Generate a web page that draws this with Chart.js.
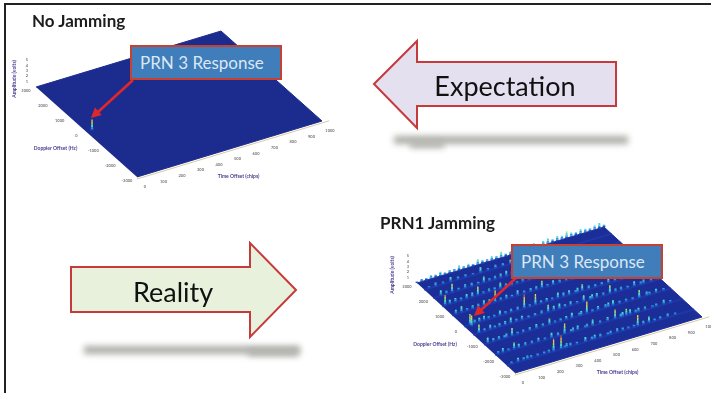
<!DOCTYPE html>
<html>
<head>
<meta charset="utf-8">
<title>PRN 3 Response</title>
<script src="https://cdn.jsdelivr.net/npm/chart.js@4/dist/chart.umd.min.js"></script>
<style>
  html, body { margin: 0; padding: 0; background: #fff; overflow: hidden; }
  #stage { position: relative; width: 711px; height: 393px; overflow: hidden; filter: blur(0.5px); font-family: Lato, "Open Sans", sans-serif; }
  #frameTop { position: absolute; left: 4px; top: 3px; right: 0; height: 2px; background: #222; }
  #frameLeft { position: absolute; left: 4px; top: 3px; bottom: 0; width: 2px; background: #222; }
  canvas { position: absolute; }
  svg { position: absolute; left: 0; top: 0; }
  .title { position: absolute; font-size: 17px; font-weight: 700; color: #1c1c1c; white-space: nowrap; }
  .big { position: absolute; font-size: 27px; color: #111; white-space: nowrap; transform: translate(-50%, -50%); }
  .callout { position: absolute; width: 148px; height: 31px; line-height: 31px; background: #3f7dbb; border: 2px solid #c8402f; color: #dbe7f3; font-size: 17px; text-indent: 8px; white-space: nowrap; }
</style>
</head>
<body>
<div id="stage">
  <canvas id="noJamChart" width="345" height="196" style="left:0;top:0"></canvas>
  <canvas id="jamChart" width="331" height="197" style="left:380px;top:196px"></canvas>

  <svg width="711" height="393">
    <defs>
      <filter id="soft" x="-10%" y="-100%" width="120%" height="300%"><feGaussianBlur stdDeviation="3"></feGaussianBlur></filter>
      <g id="redArrow">
        <line x1="133" y1="80" x2="98" y2="112" stroke="#e0282c" stroke-width="2.6"></line>
        <polygon points="91,118 101.7,115 95,107.6" fill="#e0282c"></polygon>
      </g>
    </defs>
    <rect x="394" y="136" width="234" height="8" fill="#ababa6" filter="url(#soft)"></rect>
    <rect x="410" y="141" width="34" height="7" fill="#b4b4ae" filter="url(#soft)"></rect>
    <rect x="84" y="346" width="216" height="8" fill="#ababa6" filter="url(#soft)"></rect>
    <rect x="248" y="349" width="50" height="7" fill="#b4b4ae" filter="url(#soft)"></rect>
    <polygon points="374,84 417,41 417,62 616,62 616,106 417,106 417,128" fill="#e4e0f0" stroke="#c63a3c" stroke-width="2"></polygon>
    <polygon points="71,267 250,267 250,243 296,290 250,337 250,312 71,312" fill="#e8f1dc" stroke="#c63a3c" stroke-width="2"></polygon>
    <use href="#redArrow"></use>
    <use href="#redArrow" x="383" y="198"></use>
  </svg>

  <div id="frameTop"></div>
  <div id="frameLeft"></div>

  <div class="title" style="left:32px;top:10px">No Jamming</div>
  <div class="title" style="left:380px;top:212px">PRN1 Jamming</div>
  <div class="big" style="left:505px;top:85px">Expectation</div>
  <div class="big" style="left:173px;top:291px">Reality</div>
  <div class="callout" style="left:130px;top:45px">PRN 3 Response</div>
  <div class="callout" style="left:511px;top:244px">PRN 3 Response</div>
</div>

<script>
// Acquisition surfaces: amplitude against time offset and Doppler offset

// --- Data ---

var timeTicks = [0, 100, 200, 300, 400, 500, 600, 700, 800, 900, 1000];
var dopplerTicks = [3000, 2000, 1000, 0, -1000, -2000, -3000];
var ampTicks = [1, 2, 3, 4, 5];

// no jamming: the single PRN 3 peak
var noJamTime = [30];
var noJamDoppler = [0];
var noJamAmp = [2.0];

// PRN1 jamming: peaks sit on rows of constant Doppler, one list per row
var jamRowDoppler = [-2500, -1800, -1100, -450, 100, 850, 1450, 2000, 2550];
var jamTime = [
  [60, 130, 200, 250, 290, 340, 420, 500, 590, 650, 700, 760, 860],
  [40, 100, 160, 230, 300, 370, 440, 520, 600, 640, 700, 720, 800, 900],
  [20, 80, 150, 210, 280, 350, 410, 470, 550, 610, 690, 760, 830, 920],
  [30, 90, 140, 200, 260, 330, 400, 460, 520, 590, 660, 730, 790, 860, 950],
  [30, 80, 130, 190, 250, 320, 380, 440, 500, 560, 630, 700, 770, 840, 900],
  [50, 110, 170, 230, 290, 350, 420, 480, 540, 610, 670, 730, 800, 870],
  [15, 70, 130, 190, 250, 310, 370, 430, 500, 570, 640, 700, 780],
  [40, 100, 170, 270, 330, 390, 450, 520, 580, 650, 720],
  [60, 140, 220, 300, 380, 460, 540, 620, 700]
];
var jamAmp = [
  [0.8, 0.6, 0.5, 2.4, 2.6, 0.7, 0.9, 0.7, 0.8, 0.5, 2.1, 1.2, 0.7],
  [0.9, 1.3, 0.7, 0.8, 1.0, 2.0, 0.9, 1.2, 0.8, 1.8, 1.3, 1.0, 0.7, 0.9],
  [1.1, 0.7, 1.5, 0.6, 0.9, 1.2, 0.6, 1.0, 2.3, 0.8, 1.1, 0.6, 1.5, 0.8],
  [1.6, 0.9, 0.7, 1.1, 0.8, 0.6, 1.4, 1.0, 0.8, 1.2, 0.9, 1.6, 0.7, 1.0, 1.7],
  [2.0, 0.8, 0.6, 1.0, 0.7, 2.6, 2.1, 0.7, 1.1, 0.9, 1.3, 0.6, 1.2, 0.9, 1.5],
  [1.2, 0.7, 1.0, 2.2, 0.8, 1.0, 0.7, 1.4, 0.9, 0.8, 1.5, 0.7, 1.0, 1.3],
  [1.9, 0.8, 0.9, 1.7, 0.7, 1.2, 0.7, 1.0, 0.8, 1.1, 0.7, 1.3, 0.9],
  [1.0, 1.6, 0.8, 1.2, 0.7, 1.0, 0.8, 0.9, 1.1, 0.8, 0.7],
  [0.7, 0.9, 0.6, 1.1, 0.7, 0.8, 0.6, 0.9, 0.7]
];

// the low blue and cyan mounds between the tall peaks, same rows
var jamLowTime = [
  [25, 90, 110, 165, 225, 310, 320, 375, 455, 470, 540, 555, 620, 680, 730, 790, 820, 900],
  [15, 70, 125, 195, 265, 335, 405, 415, 480, 490, 560, 670, 680, 750, 765, 840, 860, 935],
  [50, 110, 120, 180, 245, 315, 380, 440, 510, 520, 580, 650, 665, 725, 795, 870, 885, 960],
  [60, 115, 170, 230, 295, 365, 430, 490, 555, 625, 635, 695, 760, 825, 895, 910, 985],
  [55, 105, 160, 220, 285, 350, 410, 470, 530, 595, 605, 665, 735, 805, 870, 935, 950],
  [20, 80, 140, 200, 260, 320, 385, 450, 510, 575, 640, 700, 765, 835, 905, 915],
  [40, 100, 160, 220, 280, 340, 400, 465, 535, 605, 670, 740, 815, 850, 890],
  [70, 135, 205, 240, 300, 360, 420, 485, 550, 615, 685, 760, 800, 840],
  [25, 100, 180, 260, 340, 420, 500, 580, 660, 740, 780]
];
var jamLowAmp = [
  [0.5, 0.6, 0.7, 0.5, 0.6, 0.5, 0.8, 0.5, 0.6, 0.8, 0.5, 0.7, 0.6, 0.5, 0.7, 0.5, 0.6, 0.5],
  [0.6, 0.5, 0.8, 0.6, 0.5, 0.7, 0.6, 0.8, 0.5, 0.7, 0.6, 0.7, 0.9, 0.6, 0.8, 0.5, 0.6, 0.5],
  [0.7, 0.6, 0.8, 0.5, 0.7, 0.6, 0.5, 0.7, 0.6, 0.8, 0.5, 0.7, 0.9, 0.6, 0.5, 0.8, 0.6, 0.5],
  [0.6, 0.5, 0.8, 0.6, 0.5, 0.7, 0.9, 0.6, 0.5, 0.7, 0.9, 0.6, 0.7, 0.5, 0.6, 0.8, 0.5],
  [0.7, 0.9, 0.5, 0.6, 0.7, 0.5, 0.6, 0.5, 0.8, 0.6, 0.9, 0.7, 0.6, 0.5, 0.7, 0.6, 0.8],
  [0.8, 0.5, 0.7, 0.9, 0.6, 0.5, 0.6, 0.7, 0.5, 0.6, 0.8, 0.5, 0.7, 0.6, 0.8, 0.6],
  [0.8, 0.6, 0.9, 0.5, 0.6, 0.7, 0.5, 0.6, 0.7, 0.5, 0.6, 0.7, 0.5, 0.6, 0.5],
  [0.6, 0.5, 0.7, 0.5, 0.6, 0.8, 0.5, 0.6, 0.7, 0.5, 0.6, 0.7, 0.5, 0.6],
  [0.4, 0.5, 0.6, 0.4, 0.5, 0.6, 0.5, 0.4, 0.5, 0.6, 0.4]
];

// jagged noise along the far edge of the jammed surface
var edgeDoppler = 3000;
var edgeTime = [0, 25, 50, 75, 100, 125, 150, 175, 200, 225, 250, 275, 300, 325, 350, 375, 400, 425, 450, 475, 500, 525, 550, 575, 600, 625, 650, 675, 700, 725, 750, 775, 800, 825, 850, 875, 900, 925, 950, 975, 1000];
var edgeAmp = [0.3, 0.5, 0.4, 0.7, 0.5, 0.8, 0.4, 0.6, 0.5, 0.9, 0.5, 0.7, 0.4, 1.0, 0.6, 0.5, 0.8, 0.6, 1.1, 0.5, 0.7, 0.9, 0.6, 0.8, 0.7, 0.9, 0.5, 0.8, 1.0, 0.6, 0.9, 0.7, 1.3, 0.8, 0.6, 0.9, 0.7, 0.5, 0.8, 1.0, 0.4];

// --- Surface drawing ---

// jet style colouring, one band per amplitude step
var bandEdges = [0, 0.25, 0.55, 1.05, 1.6, 2.2, 3];
var bandColors = ["#1f50c4", "#2a9ae0", "#4fd6d0", "#b8e060", "#f0d840", "#e0602c"];
var bandWidths = [2.8, 2.4, 1.9, 1.5, 1.3, 1.2];

var noJamPlot = { ox: 137, oy: 177, tx: 185, ty: -56, dx: -101, dy: -90, ampPx: 5.4 };
var jamPlot = { ox: 135, oy: 177, tx: 187, ty: -56, dx: -98, dy: -90, ampPx: 5.4 };

function project(plot, t, d, a) {
  var s = t / 1000;
  var r = (d + 3000) / 6000;
  return {
    x: plot.ox + s * plot.tx + r * plot.dx,
    y: plot.oy + s * plot.ty + r * plot.dy - a * plot.ampPx
  };
}

function line(color, width, order, data) {
  return {
    data: data,
    showLine: true,
    borderColor: color,
    borderWidth: width,
    pointRadius: 0,
    fill: false,
    order: order,
    clip: false
  };
}

function buildDatasets(plot, spikes, planeColor, ridges) {
  var sets = [];

  var plane = line(planeColor, 1, 100, [
    project(plot, 0, -3000, 0),
    project(plot, 1000, -3000, 0),
    project(plot, 1000, 3000, 0),
    project(plot, 0, 3000, 0)
  ]);
  plane.fill = "shape";
  plane.backgroundColor = planeColor;
  sets.push(plane);

  sets.push(line("#d9c9a6", 1, 90, [project(plot, -10, -3100, 0), project(plot, 1030, -3100, 0)]));

  ridges.forEach(function(d) {
    sets.push(line("#1f37a6", 2, 80, [project(plot, 0, d, 0), project(plot, 1000, d, 0)]));
  });

  // each band holds the part of every spike that falls in its amplitude range
  bandColors.forEach(function(color, b) {
    var pts = [];
    spikes.forEach(function(p) {
      if (p.a <= bandEdges[b]) return;
      pts.push(project(plot, p.t, p.d, bandEdges[b]));
      pts.push(project(plot, p.t, p.d, Math.min(p.a, bandEdges[b + 1])));
      pts.push({ x: NaN, y: NaN });
    });
    sets.push(line(color, bandWidths[b], 60 - b, pts));
  });

  return sets;
}

// tick labels and axis titles follow the skewed axes
function axisTextPlugin(plot, titles) {
  return {
    id: "axisText",
    afterDraw: function(chart) {
      var ctx = chart.ctx;
      var xs = chart.scales.x, ys = chart.scales.y;
      function put(text, p, ox, oy) {
        ctx.fillText(text, xs.getPixelForValue(p.x + ox), ys.getPixelForValue(p.y + oy));
      }
      ctx.save();
      ctx.textAlign = "center";
      ctx.textBaseline = "middle";
      ctx.fillStyle = "#777";
      ctx.font = "bold 4px Lato";
      timeTicks.forEach(function(t) { put(String(t), project(plot, t, -3000, 0), 8, 10); });
      dopplerTicks.forEach(function(d) { put(String(d), project(plot, 0, d, 0), -10, 4); });
      ampTicks.forEach(function(a) { put(String(a), project(plot, 0, 3000, a), -9, 0); });
      ctx.fillStyle = "#4a3a8c";
      ctx.font = "bold 5px Lato";
      put(titles.doppler, project(plot, 0, 0, 0), -31, 16);
      put(titles.time, project(plot, 500, -3000, 0), 9, 27);
      ctx.translate(xs.getPixelForValue(plot.ox - 123), ys.getPixelForValue(plot.oy - 98));
      ctx.rotate(-Math.PI / 2);
      ctx.fillText(titles.amp, 0, 0);
      ctx.restore();
    }
  };
}

function createSurface(id, plot, spikes, planeColor, ridges) {
  var canvas = document.getElementById(id);
  return new Chart(canvas, {
    type: "scatter",
    data: { datasets: buildDatasets(plot, spikes, planeColor, ridges) },
    options: {
      responsive: false,
      animation: false,
      layout: { padding: 0 },
      plugins: { legend: { display: false }, tooltip: { enabled: false } },
      scales: {
        x: { type: "linear", display: false, min: 0, max: canvas.width },
        y: { type: "linear", display: false, min: 0, max: canvas.height, reverse: true }
      }
    },
    plugins: [axisTextPlugin(plot, { doppler: "Doppler Offset (Hz)", time: "Time Offset (chips)", amp: "Amplitude (volts)" })]
  });
}

// --- Initialization ---

var noJamSpikes = noJamTime.map(function(t, i) {
  return { t: t, d: noJamDoppler[i], a: noJamAmp[i] };
});

var jamSpikes = [];
edgeTime.forEach(function(t, i) {
  jamSpikes.push({ t: t, d: edgeDoppler, a: edgeAmp[i] });
});
jamRowDoppler.forEach(function(d, r) {
  jamLowTime[r].forEach(function(t, i) {
    jamSpikes.push({ t: t, d: d, a: jamLowAmp[r][i] });
  });
  jamTime[r].forEach(function(t, i) {
    jamSpikes.push({ t: t, d: d, a: jamAmp[r][i] });
  });
});
jamSpikes.push({ t: noJamTime[0], d: noJamDoppler[0], a: noJamAmp[0] });

createSurface("noJamChart", noJamPlot, noJamSpikes, "#1c2c8e", []);
createSurface("jamChart", jamPlot, jamSpikes, "#1b2e98", jamRowDoppler);
</script>
</body>
</html>
